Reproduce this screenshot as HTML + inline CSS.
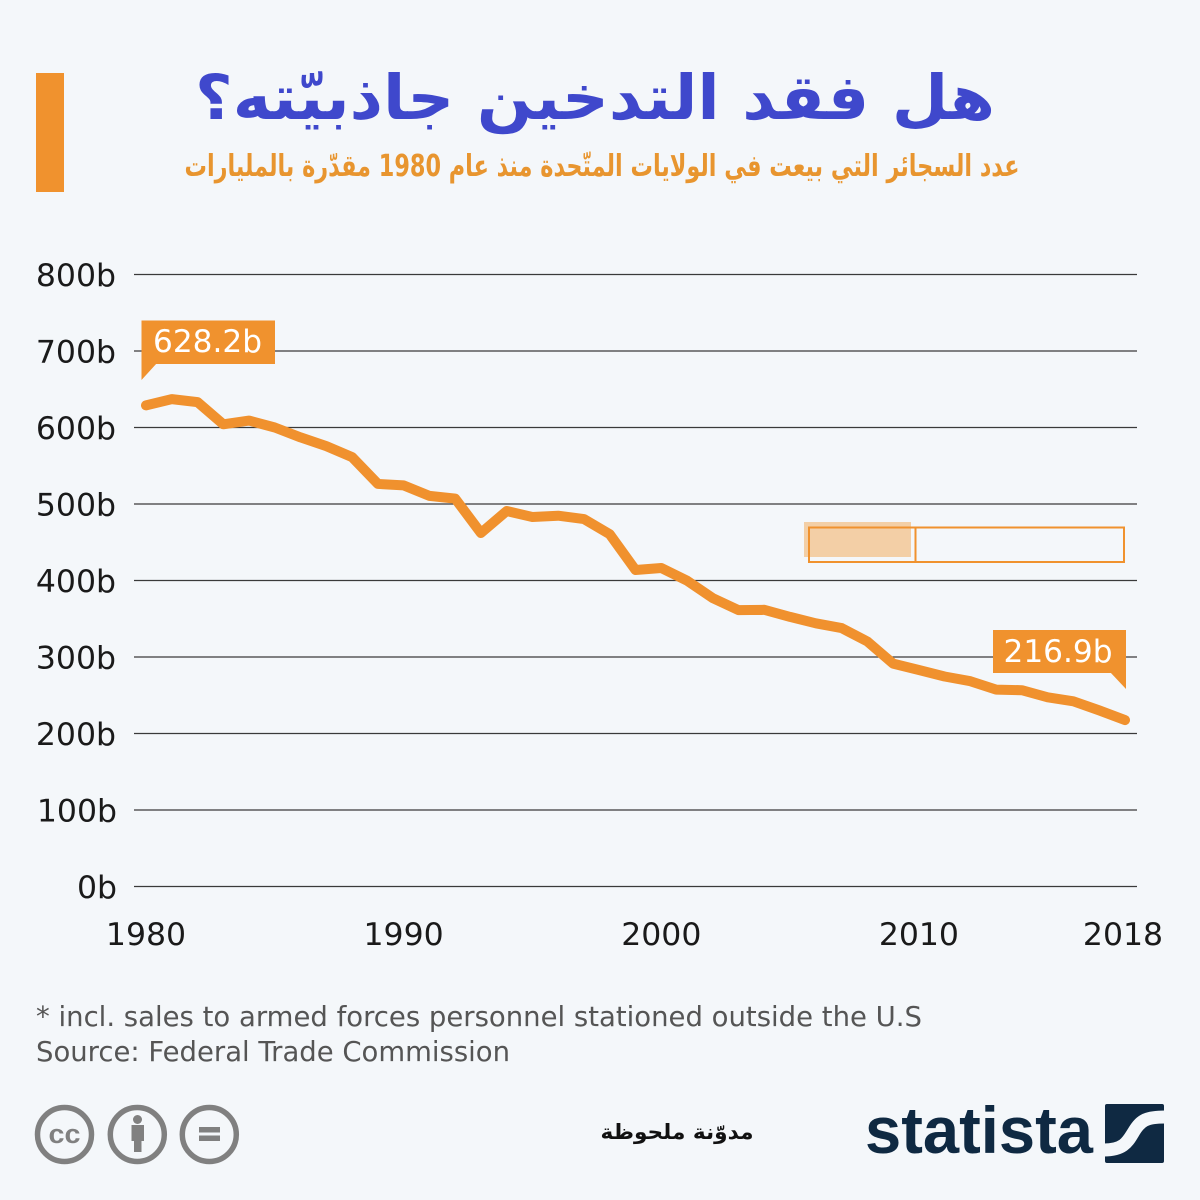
<!DOCTYPE html>
<html><head><meta charset="utf-8"><style>
html,body{margin:0;padding:0;background:#F4F7FA;}
svg{display:block;}
</style></head><body>
<svg width="1200" height="1200" viewBox="0 0 1200 1200" xmlns="http://www.w3.org/2000/svg">
<rect x="0" y="0" width="1200" height="1200" fill="#F4F7FA"/>
<rect x="36" y="73" width="28" height="119" fill="#F0922E"/>
<text x="595" y="119" direction="rtl" text-anchor="middle" font-family="DejaVu Sans, sans-serif" font-weight="bold" font-size="62" fill="#3F48CC" textLength="800" lengthAdjust="spacingAndGlyphs">هل فقد التدخين جاذبيّته؟</text>
<text x="602" y="176" direction="rtl" text-anchor="middle" font-family="DejaVu Sans, sans-serif" font-weight="bold" font-size="30" fill="#E8952F" textLength="835" lengthAdjust="spacingAndGlyphs">عدد السجائر التي بيعت في الولايات المتّحدة منذ عام 1980 مقدّرة بالمليارات</text>
<g stroke="#3a3a3a" stroke-width="1.2">
<line x1="134" y1="274.5" x2="1137" y2="274.5"/>
<line x1="134" y1="351" x2="1137" y2="351"/>
<line x1="134" y1="427.5" x2="1137" y2="427.5"/>
<line x1="134" y1="504" x2="1137" y2="504"/>
<line x1="134" y1="580.5" x2="1137" y2="580.5"/>
<line x1="134" y1="657" x2="1137" y2="657"/>
<line x1="134" y1="733.5" x2="1137" y2="733.5"/>
<line x1="134" y1="810" x2="1137" y2="810"/>
<line x1="134" y1="886.5" x2="1137" y2="886.5"/>
</g>
<g font-family="DejaVu Sans, sans-serif" font-size="31.5" fill="#1a1a1a" text-anchor="end">
<text x="116" y="286">800b</text>
<text x="116" y="362.5">700b</text>
<text x="116" y="439">600b</text>
<text x="116" y="515.5">500b</text>
<text x="116" y="592">400b</text>
<text x="116" y="668.5">300b</text>
<text x="116" y="745">200b</text>
<text x="117" y="821.5">100b</text>
<text x="117" y="898">0b</text>
</g>
<g font-family="DejaVu Sans, sans-serif" font-size="31.5" fill="#1a1a1a" text-anchor="middle">
<text x="146" y="945">1980</text>
<text x="403.6" y="945">1990</text>
<text x="661.3" y="945">2000</text>
<text x="918.9" y="945">2010</text>
<text x="1123" y="945">2018</text>
</g>
<rect x="804" y="522" width="107" height="35" fill="#F3CFA6"/>
<rect x="809" y="527.5" width="315" height="34.5" fill="none" stroke="#F0922E" stroke-width="2"/>
<line x1="915.5" y1="527.5" x2="915.5" y2="562" stroke="#F0922E" stroke-width="2"/>
<polyline fill="none" stroke="#F0912E" stroke-width="10" stroke-linejoin="round" stroke-linecap="round" points="146,405.4 171.8,399.1 197.5,402.1 223.3,424.3 249.1,420.6 274.8,427.5 300.6,437.4 326.3,446.1 352.1,457.1 377.9,483.9 403.6,485.4 429.4,495.9 455.2,498.6 480.9,533 506.7,511 532.4,517 558.2,515.7 584,519.1 609.7,534.2 635.5,570 661.3,568 687,580.6 712.8,598.1 738.5,610.1 764.3,609.8 790.1,616.9 815.8,623.3 841.6,628.1 867.4,641.5 893.1,663.6 918.9,670 944.6,676.5 970.4,681.2 996.2,689.6 1021.9,690.2 1047.7,697.3 1073.4,701.3 1099.2,710.4 1125,720.1"/>
<rect x="141.5" y="320.5" width="133.5" height="43.5" fill="#F0922E"/>
<polygon points="141.5,363 141.5,380 157,363" fill="#F0922E"/>
<text x="207.5" y="352" text-anchor="middle" font-family="DejaVu Sans, sans-serif" font-size="31" fill="#ffffff" textLength="109" lengthAdjust="spacingAndGlyphs">628.2b</text>
<rect x="993" y="630" width="133" height="43" fill="#F0922E"/>
<polygon points="1110,672 1126,672 1126,689" fill="#F0922E"/>
<text x="1058" y="662" text-anchor="middle" font-family="DejaVu Sans, sans-serif" font-size="31" fill="#ffffff" textLength="109" lengthAdjust="spacingAndGlyphs">216.9b</text>
<text x="36" y="1026" font-family="DejaVu Sans, sans-serif" font-size="28" fill="#555555" textLength="886" lengthAdjust="spacingAndGlyphs">* incl. sales to armed forces personnel stationed outside the U.S</text>
<text x="36" y="1061" font-family="DejaVu Sans, sans-serif" font-size="28" fill="#555555" textLength="474" lengthAdjust="spacingAndGlyphs">Source: Federal Trade Commission</text>
<g fill="none" stroke="#808080" stroke-width="5.5">
<circle cx="64.5" cy="1134.5" r="27"/>
<circle cx="137.3" cy="1134.5" r="27"/>
<circle cx="209.3" cy="1134.5" r="27"/>
</g>
<text x="64.5" y="1143" text-anchor="middle" font-family="Liberation Sans, sans-serif" font-weight="bold" font-size="27" fill="#808080" textLength="32" lengthAdjust="spacingAndGlyphs">cc</text>
<circle cx="137.5" cy="1119.5" r="4.5" fill="#808080"/>
<rect x="131.5" y="1125" width="12.5" height="16" fill="#808080"/>
<rect x="134" y="1140" width="7.5" height="12" fill="#808080"/>
<rect x="199" y="1127" width="21" height="5.5" fill="#808080"/>
<rect x="199" y="1135.5" width="21" height="5.5" fill="#808080"/>
<text x="677" y="1139" direction="rtl" text-anchor="middle" font-family="DejaVu Sans, sans-serif" font-weight="bold" font-size="21" fill="#111111" textLength="153" lengthAdjust="spacingAndGlyphs">مدوّنة ملحوظة</text>
<text x="865" y="1153" font-family="Liberation Sans, sans-serif" font-weight="bold" font-size="66" fill="#0F2942" textLength="228" lengthAdjust="spacingAndGlyphs">statista</text>
<rect x="1105" y="1104" width="59" height="59" rx="2" fill="#0F2942"/>
<path d="M1104,1150 C1124,1150 1128,1141 1133,1133 C1140,1121 1145,1117 1165,1117" fill="none" stroke="#F4F7FA" stroke-width="13"/>
</svg>
</body></html>
